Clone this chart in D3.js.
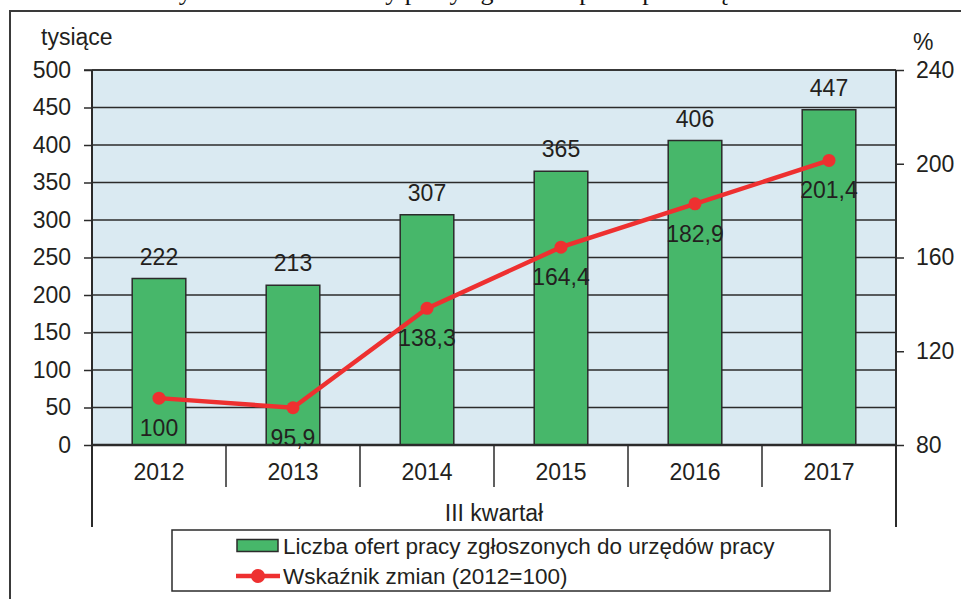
<!DOCTYPE html>
<html><head><meta charset="utf-8">
<script src="https://cdn.jsdelivr.net/npm/d3@7/dist/d3.min.js"></script>
<style>
html,body{margin:0;padding:0;background:#fff;}
text{font-family:"Liberation Sans",Arial,sans-serif;fill:#231f20;}
</style></head>
<body><svg id="c" width="961" height="599"></svg>
<script>
const years = ["2012","2013","2014","2015","2016","2017"];
const offers = [222,213,307,365,406,447];
const index = [100,95.9,138.3,164.4,182.9,201.4];
const indexLabels = ["100","95,9","138,3","164,4","182,9","201,4"];
const leftTicks = [0,50,100,150,200,250,300,350,400,450,500];
const rightTicks = [80,120,160,200,240];
const legendLabels = ["Liczba ofert pracy zgłoszonych do urzędów pracy","Wskaźnik zmian (2012=100)"];
const titleText = "Wykres 3. Nowe oferty pracy zgłoszone przez przedsiębiorstwa";

const svg = d3.select("#c");
const L=92,R=896,T=70,B=445;
const FS="23px";
const x = d3.scaleBand().domain(years).range([L,R]);
const y = d3.scaleLinear().domain([0,500]).range([B,T]);
const y2 = d3.scaleLinear().domain([80,240]).range([B,T]);
const ink="#2b2b2b";

// cropped title above frame (only its lower part is visible, as in the source)
svg.append("text").attr("x",487).attr("y",0).attr("text-anchor","middle")
  .style("font-family","'Liberation Serif',serif").style("font-size","26px").style("fill","#111")
  .text(titleText);

// outer frame
svg.append("path").attr("d","M10,599V11H961").attr("fill","none").attr("stroke","#3a3a3a").attr("stroke-width",2);

// plot bg
svg.append("rect").attr("x",L).attr("y",T).attr("width",R-L).attr("height",B-T).attr("fill","#daeaf2");

// gridlines
svg.append("g").selectAll("line").data(leftTicks.filter(d=>d>0)).join("line")
  .attr("x1",L).attr("x2",R).attr("y1",d=>y(d)).attr("y2",d=>y(d))
  .attr("stroke",ink).attr("stroke-width",1.5);

// bars
svg.append("g").selectAll("rect").data(offers).join("rect")
  .attr("x",(d,i)=>x(years[i])+x.bandwidth()*0.3)
  .attr("width",x.bandwidth()*0.4)
  .attr("y",d=>y(d)).attr("height",d=>B-y(d))
  .attr("fill","#47b76a").attr("stroke",ink).attr("stroke-width",1.5);

// left axis
const gl = svg.append("g").attr("transform",`translate(${L},0)`)
  .call(d3.axisLeft(y).tickValues(leftTicks).tickSize(8).tickPadding(13));
gl.select(".domain").remove();
gl.selectAll(".tick line").attr("stroke",ink).attr("stroke-width",1.5);
gl.selectAll(".tick text").style("font-size",FS).style("font-family","'Liberation Sans',Arial,sans-serif").attr("fill","#231f20");

// right axis
const gr = svg.append("g").attr("transform",`translate(${R},0)`)
  .call(d3.axisRight(y2).tickValues(rightTicks).tickSize(8).tickPadding(12));
gr.select(".domain").remove();
gr.selectAll(".tick line").attr("stroke",ink).attr("stroke-width",1.5);
gr.selectAll(".tick text").style("font-size",FS).style("font-family","'Liberation Sans',Arial,sans-serif").attr("fill","#231f20");

// axis lines
svg.append("line").attr("x1",L).attr("x2",L).attr("y1",T).attr("y2",527).attr("stroke",ink).attr("stroke-width",2);
svg.append("line").attr("x1",R).attr("x2",R).attr("y1",T).attr("y2",527).attr("stroke",ink).attr("stroke-width",2);
svg.append("line").attr("x1",L).attr("x2",R).attr("y1",B).attr("y2",B).attr("stroke",ink).attr("stroke-width",2.5);
svg.append("line").attr("x1",84).attr("x2",R).attr("y1",T).attr("y2",T).attr("stroke",ink).attr("stroke-width",1.5);

// category separators and labels
svg.append("g").selectAll("line").data(years.slice(1)).join("line")
  .attr("x1",d=>x(d)).attr("x2",d=>x(d)).attr("y1",B).attr("y2",487)
  .attr("stroke",ink).attr("stroke-width",1.5);
svg.append("g").selectAll("text").data(years).join("text")
  .attr("x",d=>x(d)+x.bandwidth()/2).attr("y",480).attr("text-anchor","middle")
  .style("font-size",FS).text(d=>d);
svg.append("text").attr("x",(L+R)/2).attr("y",521).attr("text-anchor","middle").style("font-size",FS).text("III kwartał");

// bar labels
svg.append("g").selectAll("text").data(offers).join("text")
  .attr("x",(d,i)=>x(years[i])+x.bandwidth()/2).attr("y",d=>y(d)-14).attr("text-anchor","middle")
  .style("font-size",FS).text(d=>d);

// line
const cx = i=>x(years[i])+x.bandwidth()/2;
svg.append("path").datum(index)
  .attr("d",d3.line().x((d,i)=>cx(i)).y(d=>y2(d)))
  .attr("fill","none").attr("stroke","#ee3030").attr("stroke-width",4.5);
svg.append("g").selectAll("circle").data(index).join("circle")
  .attr("cx",(d,i)=>cx(i)).attr("cy",d=>y2(d)).attr("r",6.5).attr("fill","#ee3030");
svg.append("g").selectAll("text").data(index).join("text")
  .attr("x",(d,i)=>cx(i)).attr("y",d=>y2(d)+38).attr("text-anchor","middle")
  .style("font-size",FS).text((d,i)=>indexLabels[i]);

// axis titles
svg.append("text").attr("x",41).attr("y",45).style("font-size",FS).text("tysiące");
svg.append("text").attr("x",913).attr("y",50).style("font-size",FS).text("%");

// legend
svg.append("rect").attr("x",172).attr("y",530).attr("width",658).attr("height",61)
  .attr("fill","#fff").attr("stroke",ink).attr("stroke-width",1.5);
svg.append("rect").attr("x",237).attr("y",539.5).attr("width",41).attr("height",12)
  .attr("fill","#47b76a").attr("stroke",ink).attr("stroke-width",1.5);
svg.append("line").attr("x1",236).attr("x2",280).attr("y1",576).attr("y2",576).attr("stroke","#ee3030").attr("stroke-width",4.5);
svg.append("circle").attr("cx",258).attr("cy",576).attr("r",7).attr("fill","#ee3030");
svg.append("g").selectAll("text").data(legendLabels).join("text")
  .attr("x",283).attr("y",(d,i)=>554+i*30).style("font-size","22.5px").text(d=>d);
</script></body></html>
